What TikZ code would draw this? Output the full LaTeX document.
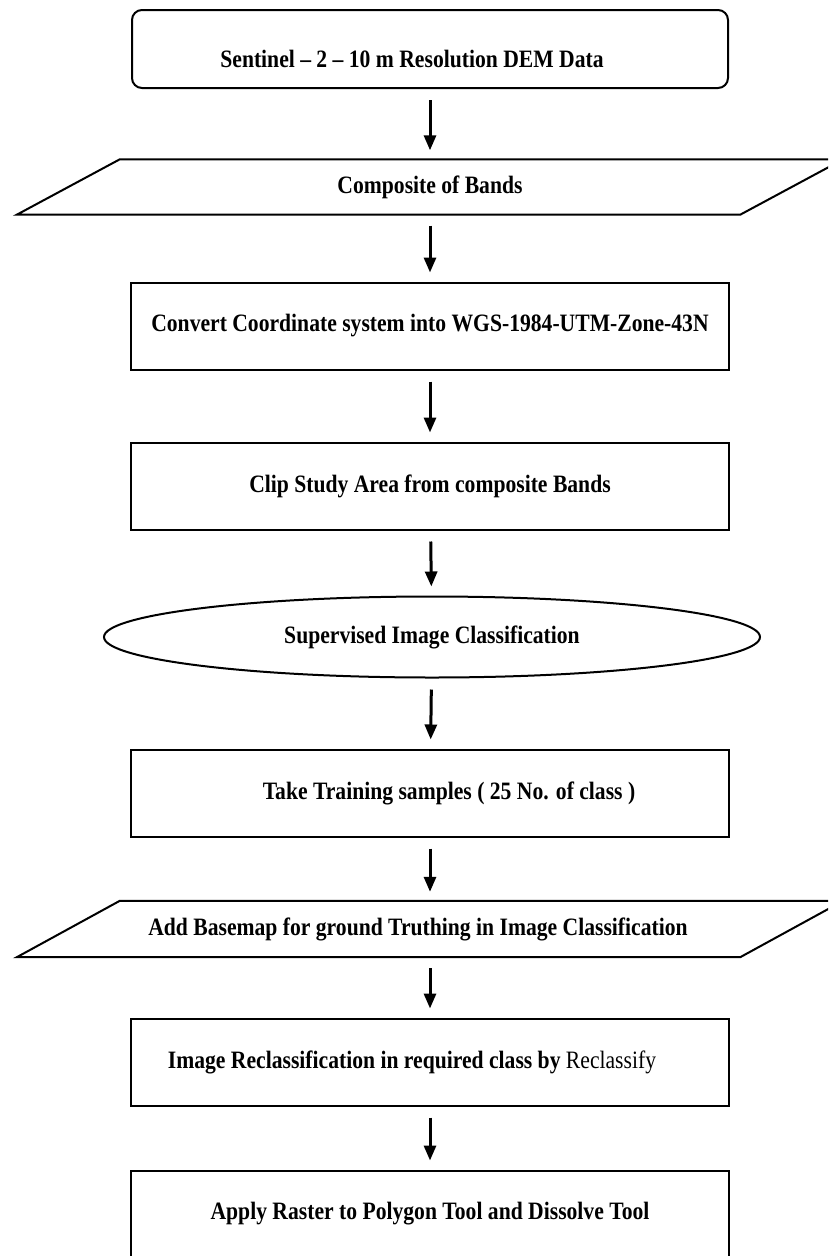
\documentclass[tikz,border=0pt]{standalone}
\usepackage{fontspec}
\setmainfont{Liberation Serif}[FakeStretch=0.865]
\usetikzlibrary{shapes.geometric,
	arrows.meta}
\tikzstyle{txt}=[font=\fontsize{25}{29}\selectfont\bfseries, inner sep=2pt]
\tikzstyle{edge}=[line width=2pt]
\tikzstyle{bx}=[txt, draw, edge, minimum width=598pt, minimum height=87pt]
\tikzstyle{rbx}=[bx, rounded corners=10pt, minimum width=596pt, minimum height=78pt]
\tikzstyle{para}=[txt, minimum width=723pt, minimum height=55pt]
\tikzstyle{ell}=[txt, draw, edge, ellipse, inner sep=0pt,
		minimum width=656pt, minimum height=81pt]
\tikzstyle{flow}=[-{Triangle[length=15pt,width=12pt]}, line width=3pt,
		shorten <=11pt, shorten >=9pt]

\begin{document}
\begin{tikzpicture}[x=1pt, y=-1pt]
        \useasboundingbox (0,0) rectangle (828,1256);
        \clip (0,0) rectangle (828,1256);
        \node[rbx, text height=42pt, text depth=6pt] (dem) at (430,49)
            {Sentinel -- 2 -- 10 m Resolution DEM Data\hspace*{36pt}};
        \node[para] (comp) at (430,187) {Composite of Bands};
        \node[bx] (conv) at (430,326) {Convert Coordinate system into WGS-1984-UTM-Zone-43N};
        \node[bx] (clip) at (430,486) {Clip Study Area from composite Bands};
        \node[ell] (sup) at (432,637) {Supervised Image Classification};
        \node[bx] (train) at (430,793) {\hspace*{38pt}Take Training samples ( 25 No. of class )};
        \node[para, minimum height=56pt] (base) at (430,929)
            {Add Basemap for ground Truthing in Image Classification\hspace*{24pt}};
        \node[bx] (recl) at (430,1062)
            {Image Reclassification in required class by {\mdseries Reclassify}\hspace*{36pt}};
        \node[bx] (poly) at (430,1214) {Apply Raster to Polygon Tool and Dissolve Tool};
        % slanted input boxes
        \foreach \p in {comp, base}
            \draw[edge] ([xshift=-51.5pt]\p.south west) -- ([xshift=-51.5pt]\p.south east)
                -- ([xshift=51.5pt]\p.north east) -- ([xshift=51.5pt]\p.north west) -- cycle;
        \draw[flow] (dem) -- (comp);
        \draw[flow] (comp) -- (conv);
        \draw[flow] (conv) -- (clip);
        \draw[flow] (clip) -- (sup);
        \draw[flow] (sup) -- (train);
        \draw[flow] (train) -- (base);
        \draw[flow] (base) -- (recl);
        \draw[flow] (recl) -- (poly);
    \end{tikzpicture}
\end{document}
